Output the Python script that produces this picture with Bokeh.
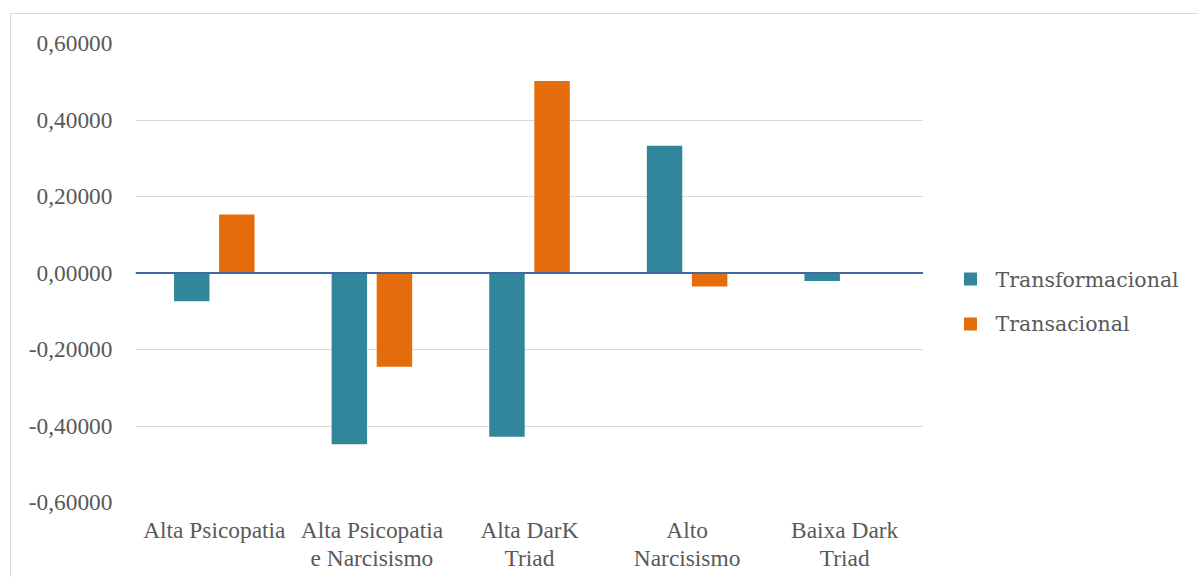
from bokeh.plotting import figure
from bokeh.layouts import row
from bokeh.models import (FactorRange, FixedTicker, CustomJSTickFormatter, Span, Range1d)
from bokeh.core.properties import value
from bokeh.transform import dodge
from bokeh.embed import file_html
from bokeh.resources import INLINE

# Profile groups (line breaks as shown on the axis)
categories = ["Alta Psicopatia", "Alta Psicopatia\ne Narcisismo", "Alta DarK\nTriad",
              "Alto\nNarcisismo", "Baixa Dark\nTriad"]
series_names = ["Transformacional", "Transacional"]
transformacional = [-0.074, -0.448, -0.428, 0.333, -0.021]
transacional = [0.153, -0.245, 0.502, -0.035, 0.001]
y_ticks = [-0.6, -0.4, -0.2, 0.0, 0.2, 0.4, 0.6]

TEAL = "#31869B"
ORANGE = "#E46C0A"
TXT = "#595959"

H = 563
PW, LW = 912, 275
TOP, BOTTOM = 29, 75

# --- bar chart -----------------------------------------------------------
p = figure(x_range=FactorRange(*categories, range_padding=0), y_range=(-0.6, 0.6),
           width=PW, height=H, output_backend="svg", toolbar_location=None,
           min_border_left=124, min_border_right=0, min_border_top=TOP,
           min_border_bottom=BOTTOM)
p.outline_line_color = None
p.background_fill_color = "white"
p.border_fill_color = "white"

src = dict(cat=categories, t1=transformacional, t2=transacional)
p.vbar(x=dodge("cat", -0.143, range=p.x_range), top="t1", width=0.225,
       source=src, fill_color=TEAL, line_color=None)
p.vbar(x=dodge("cat", 0.143, range=p.x_range), top="t2", width=0.225,
       source=src, fill_color=ORANGE, line_color=None)

p.add_layout(Span(location=0, dimension="width", line_color="#41699F", line_width=2))

p.yaxis.ticker = FixedTicker(ticks=y_ticks)
p.yaxis.formatter = CustomJSTickFormatter(
    code="return tick.toFixed(5).replace('.', ',');")
for ax in (p.xaxis, p.yaxis):
    ax.axis_line_color = None
    ax.major_tick_line_color = None
    ax.minor_tick_line_color = None
    ax.major_label_text_font = "Liberation Serif"
    ax.major_label_text_font_size = "23.4px"
    ax.major_label_text_color = TXT
p.yaxis.major_label_standoff = 17
p.xaxis.major_label_standoff = 8
p.xaxis.major_label_text_line_height = 1.08
p.xgrid.grid_line_color = None
p.ygrid.grid_line_color = "#d9d9d9"
p.ygrid.grid_line_width = 1

# --- legend panel: frame shares the chart's vertical extent,
#     coordinates in pixels measured from the panel's top edge ---------------
frame_h = H - TOP - BOTTOM
lg = figure(width=LW, height=H, x_range=Range1d(0, LW),
            y_range=Range1d(TOP + frame_h, TOP),
            output_backend="svg", toolbar_location=None,
            min_border_left=0, min_border_right=0, min_border_top=TOP,
            min_border_bottom=BOTTOM, outline_line_color=None)
lg.axis.visible = False
lg.grid.visible = False
lg.background_fill_color = "white"
lg.border_fill_color = "white"

leg = dict(name=series_names, color=[TEAL, ORANGE],
           sx=[47, 47], sy=[264.5, 309.5], tx=[72, 72], ty=[265, 309])
lg.scatter(x="sx", y="sy", marker="square", size=13, source=leg,
           fill_color="color", line_color=None)
lg.text(x="tx", y="ty", text="name", source=leg, text_font=value("DejaVu Serif"),
        text_font_size="20.5px", text_color=TXT, text_baseline="alphabetic",
        text_align="left")

layout = row(p, lg, spacing=0)
layout.styles = {"margin-left": "10px", "margin-top": "13px",
                 "border-left": "1px solid #d9d9d9", "border-top": "1px solid #d9d9d9"}

open("out.html", "w").write(file_html(layout, INLINE))
